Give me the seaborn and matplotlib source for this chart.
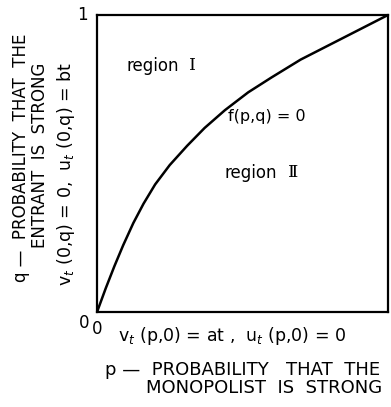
import numpy as np
import pandas as pd
import matplotlib
matplotlib.use('Agg')
import matplotlib.pyplot as plt
import seaborn as sns

# 境界曲線 f(p,q)=0
p_vals = [0.0, 0.03, 0.06, 0.09, 0.125, 0.16, 0.20, 0.25, 0.31, 0.37, 0.44, 0.52, 0.60, 0.70, 0.80, 0.90, 1.0]
q_vals = [0.0, 0.08, 0.155, 0.225, 0.30, 0.365, 0.43, 0.495, 0.56, 0.62, 0.68, 0.74, 0.79, 0.85, 0.90, 0.95, 1.0]

ylabel_lines = ['q —  PROBABILITY  THAT  THE', 'ENTRANT  IS  STRONG']
xlabel_lines = ['p —  PROBABILITY   THAT  THE', 'MONOPOLIST  IS  STRONG']
y_boundary = 'v$_t$ (0,q) = 0,  u$_t$ (0,q) = bt'
x_boundary = 'v$_t$ (p,0) = at ,  u$_t$ (p,0) = 0'
region_numerals = ['Ⅰ', 'Ⅱ']

df = pd.DataFrame({'p': p_vals, 'q': q_vals})

sns.set_style('white')
plt.rcParams['font.family'] = ['DejaVu Sans']
plt.rcParams['text.color'] = 'black'

fig = plt.figure(figsize=(3.91, 4.07), dpi=100)
ax = fig.add_axes([0.248, 0.233, 0.744, 0.730])
sns.lineplot(data=df, x='p', y='q', color='black', linewidth=1.8, ax=ax)
ax.set_xlim(0, 1)
ax.set_ylim(0, 1)
ax.set_xticks([])
ax.set_yticks([])
ax.set_xlabel('')
ax.set_ylabel('')
for s in ax.spines.values():
    s.set_color('black')
    s.set_linewidth(1.6)

#目盛りの文字
ax.text(-0.03, 1.0, '1', transform=ax.transAxes, ha='right', va='center', fontsize=12)
ax.text(-0.025, -0.005, '0', transform=ax.transAxes, ha='right', va='top', fontsize=12)
ax.text(0.0, -0.025, '0', transform=ax.transAxes, ha='center', va='top', fontsize=12)

#領域のラベル (ローマ数字はセリフ体)
ax.text(0.10, 0.83, 'region', transform=ax.transAxes, fontsize=12, va='center')
ax.text(0.315, 0.83, region_numerals[0], transform=ax.transAxes, fontsize=12.5,
        va='center', family=['DejaVu Serif'])
ax.text(0.45, 0.66, 'f(p,q) = 0', transform=ax.transAxes, fontsize=11.5, va='center')
ax.text(0.44, 0.47, 'region', transform=ax.transAxes, fontsize=12, va='center')
ax.text(0.655, 0.47, region_numerals[1], transform=ax.transAxes, fontsize=12.5,
        va='center', family=['DejaVu Serif'])

#軸ラベル
fig.text(21 / 391, 1 - 158 / 407, ylabel_lines[0], rotation=90, ha='center', va='center', fontsize=12)
fig.text(40 / 391, 1 - 155 / 407, ylabel_lines[1], rotation=90, ha='center', va='center', fontsize=12)
fig.text(66 / 391, 1 - 174 / 407, y_boundary, rotation=90, ha='center', va='center', fontsize=12.5)
fig.text(232 / 391, 1 - 336 / 407, x_boundary, ha='center', va='center', fontsize=12.5)
fig.text(380 / 391, 1 - 370 / 407, xlabel_lines[0], ha='right', va='center', fontsize=13)
fig.text(382 / 391, 1 - 388 / 407, xlabel_lines[1], ha='right', va='center', fontsize=13)

fig.savefig('out.png', dpi=100)
